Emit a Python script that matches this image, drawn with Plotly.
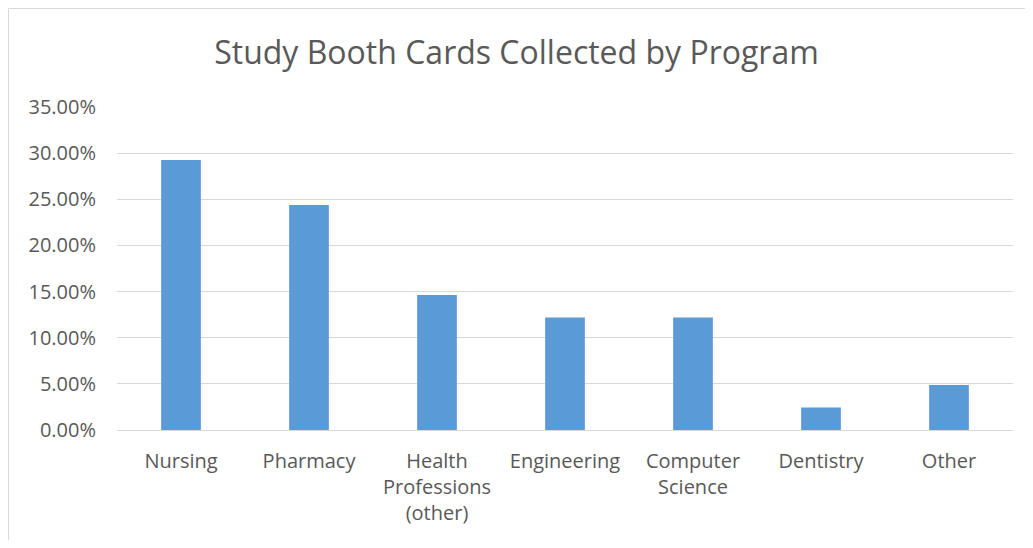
import plotly.graph_objects as go

categories = ["Nursing", "Pharmacy", "Health<br>Professions<br>(other)", "Engineering",
              "Computer<br>Science", "Dentistry", "Other"]
shares = [0.2927, 0.2439, 0.1463, 0.1220, 0.1220, 0.0244, 0.0488]

title_text = "Study Booth Cards Collected by Program"
font_family = "Open Sans, Lato, sans-serif"
text_color = "#595959"
grid_color = "#d9d9d9"
bar_color = "#5b9bd5"

# page body has an 8px margin; compensate so the figure lines up with the window
OFF = 8
W, H = 1033 - 2 * OFF, 548 - 2 * OFF
ml, mr, mt, mb = 117 - OFF, W - (1013 - OFF), 107 - OFF, H - (430 - OFF)
pw, ph = W - ml - mr, H - mt - mb

fig = go.Figure(go.Bar(x=categories, y=shares, marker=dict(color=bar_color, line=dict(width=0))))

fig.update_layout(
    width=W, height=H,
    margin=dict(l=ml, r=mr, t=mt, b=mb),
    paper_bgcolor="white", plot_bgcolor="white",
    bargap=0.69,
    showlegend=False,
    title=dict(text=title_text, x=0.5, xanchor="center", y=1 - (53 - OFF) / H, yanchor="middle",
               font=dict(family=font_family, size=32, color=text_color)),
    font=dict(family=font_family, color=text_color),
    xaxis=dict(showgrid=False, showline=False, ticks="", tickfont=dict(size=20, color=text_color),
               ticklabelstandoff=17, tickangle=0),
    yaxis=dict(range=[0, 0.35], dtick=0.05, tickformat=".2%", showgrid=True, gridcolor=grid_color,
               gridwidth=1, zeroline=True, zerolinecolor=grid_color, zerolinewidth=1,
               showline=False, ticks="", tickfont=dict(size=20, color=text_color),
               ticklabelstandoff=20),
    shapes=[dict(type="rect", xref="paper", yref="paper",
                 x0=(0.5 - ml) / pw, x1=1.5, y0=-1.0, y1=(ph + mt - 0.5) / ph,
                 line=dict(color="#d9d9d9", width=1), fillcolor="rgba(0,0,0,0)", layer="below")],
)

fig.write_html("out.html")
